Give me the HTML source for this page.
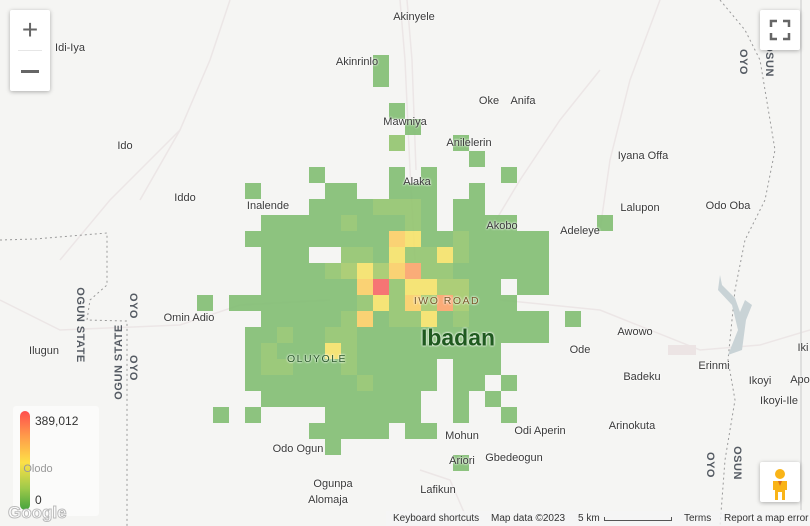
<!DOCTYPE html>
<html><head><meta charset="utf-8">
<style>
html,body{margin:0;padding:0;}
body{width:810px;height:526px;overflow:hidden;background:#f5f5f3;font-family:"Liberation Sans",Arial,sans-serif;position:relative;}
#map{position:absolute;left:0;top:0;width:810px;height:526px;}
.lbl{position:absolute;font-size:11px;color:#3a3a3a;white-space:nowrap;transform:translate(-50%,-50%);text-shadow:0 0 2px #fff,0 0 2px #fff;}
.vl{position:absolute;font-size:11px;color:#555b63;font-weight:bold;white-space:nowrap;letter-spacing:0.5px;}
.ctrl{position:absolute;background:#fff;border-radius:2px;box-shadow:0 1px 4px rgba(0,0,0,0.3);}
</style></head>
<body>
<svg id="map" width="810" height="526">
  <g stroke="#ece6e6" stroke-width="1.5" fill="none">
    <path d="M400,0 L405,60 L410,170 L415,260"/>
    <path d="M407,0 L412,60 L416,170"/>
    <path d="M0,300 L60,330 L180,325 L240,305 L330,300"/>
    <path d="M500,300 L600,310 L700,350 L760,345 L810,330"/>
    <path d="M230,0 L210,60 L180,130 L140,200"/>
    <path d="M490,230 L520,180 L560,120 L600,70"/>
    <path d="M660,0 L630,80 L610,160 L600,230"/>
    <path d="M420,470 L450,480 L470,526"/>
    <path d="M180,130 L110,200 L60,260"/>
  </g>
  <g stroke="#9a9a9a" stroke-width="1" stroke-dasharray="2,3" fill="none">
    <path d="M0,240 L35,239 L107,233 L107,285 L90,300 L87,320 L127,321 L127,526"/>
    <path d="M720,0 L745,30 L760,60 L770,120 L775,150 L765,200 L745,240 L735,290 L728,360 L735,400 L725,460 L720,526"/>
  </g>
  <path d="M720,275 L718,290 L732,305 L738,330 L728,355 L742,350 L746,320 L752,305 L745,300 L740,312 L735,298 L722,285 Z" fill="#c9d3d6"/>
  <line x1="801" y1="0" x2="801" y2="510" stroke="#d8d8d8" stroke-width="1.5"/>
  <rect x="668" y="345" width="28" height="10" fill="#ece4e4"/>
  <g id="heat"></g>
</svg>

<div>
<div class="lbl" style="left:414px;top:17px">Akinyele</div>
<div class="lbl" style="left:357px;top:62px">Akinrinlo</div>
<div class="lbl" style="left:70px;top:48px">Idi-Iya</div>
<div class="lbl" style="left:489px;top:101px">Oke</div>
<div class="lbl" style="left:523px;top:101px">Anifa</div>
<div class="lbl" style="left:405px;top:122px">Mawniya</div>
<div class="lbl" style="left:469px;top:143px">Anilelerin</div>
<div class="lbl" style="left:125px;top:146px">Ido</div>
<div class="lbl" style="left:643px;top:156px">Iyana Offa</div>
<div class="lbl" style="left:417px;top:182px">Alaka</div>
<div class="lbl" style="left:185px;top:198px">Iddo</div>
<div class="lbl" style="left:268px;top:206px">Inalende</div>
<div class="lbl" style="left:640px;top:208px">Lalupon</div>
<div class="lbl" style="left:728px;top:206px">Odo Oba</div>
<div class="lbl" style="left:502px;top:226px">Akobo</div>
<div class="lbl" style="left:580px;top:231px">Adeleye</div>
<div class="lbl" style="left:189px;top:318px">Omin Adio</div>
<div class="lbl" style="left:447px;top:301px;color:#7a5a2a;letter-spacing:1.5px;font-size:10.5px">IWO ROAD</div>
<div class="lbl" style="left:458px;top:338px;color:#1f5a1f;font-size:23px;font-weight:bold">Ibadan</div>
<div class="lbl" style="left:635px;top:332px">Awowo</div>
<div class="lbl" style="left:317px;top:359px;color:#2c5a2c;letter-spacing:1.5px;font-size:10.5px">OLUYOLE</div>
<div class="lbl" style="left:44px;top:351px">Ilugun</div>
<div class="lbl" style="left:580px;top:350px">Ode</div>
<div class="lbl" style="left:803px;top:348px">Iki</div>
<div class="lbl" style="left:714px;top:366px">Erinmi</div>
<div class="lbl" style="left:642px;top:377px">Badeku</div>
<div class="lbl" style="left:760px;top:381px">Ikoyi</div>
<div class="lbl" style="left:800px;top:380px">Apo</div>
<div class="lbl" style="left:779px;top:401px">Ikoyi-Ile</div>
<div class="lbl" style="left:632px;top:426px">Arinokuta</div>
<div class="lbl" style="left:462px;top:436px">Mohun</div>
<div class="lbl" style="left:540px;top:431px">Odi Aperin</div>
<div class="lbl" style="left:298px;top:449px">Odo Ogun</div>
<div class="lbl" style="left:462px;top:461px">Ariori</div>
<div class="lbl" style="left:514px;top:458px">Gbedeogun</div>
<div class="lbl" style="left:333px;top:484px">Ogunpa</div>
<div class="lbl" style="left:328px;top:500px">Alomaja</div>
<div class="lbl" style="left:438px;top:490px">Lafikun</div>
</div>

<div>
<div class="vl" style="left:80px;top:325px;transform:translate(-50%,-50%) rotate(90deg)">OGUN STATE</div>
<div class="vl" style="left:133px;top:306px;transform:translate(-50%,-50%) rotate(90deg)">OYO</div>
<div class="vl" style="left:119px;top:362px;transform:translate(-50%,-50%) rotate(-90deg)">OGUN STATE</div>
<div class="vl" style="left:133px;top:368px;transform:translate(-50%,-50%) rotate(90deg)">OYO</div>
<div class="vl" style="left:769px;top:60px;transform:translate(-50%,-50%) rotate(90deg)">OSUN</div>
<div class="vl" style="left:743px;top:62px;transform:translate(-50%,-50%) rotate(90deg)">OYO</div>
<div class="vl" style="left:710px;top:465px;transform:translate(-50%,-50%) rotate(90deg)">OYO</div>
<div class="vl" style="left:737px;top:463px;transform:translate(-50%,-50%) rotate(90deg)">OSUN</div>
</div>

<div class="ctrl" style="left:10px;top:10px;width:40px;height:81px;">
  <div style="position:absolute;left:0;top:0;width:40px;height:40px;text-align:center;line-height:40px;font-size:28px;color:#666;">+</div>
  <div style="position:absolute;left:8px;top:40px;width:24px;height:1px;background:#e6e6e6"></div>
  <div style="position:absolute;left:11px;top:60px;width:18px;height:2.5px;background:#666;"></div>
</div>
<div class="ctrl" style="left:760px;top:10px;width:40px;height:40px;">
  <svg width="40" height="40"><g stroke="#666" stroke-width="2.5" fill="none"><path d="M11,17 V11 H17"/><path d="M23,11 H29 V17"/><path d="M29,23 V29 H23"/><path d="M17,29 H11 V23"/></g></svg>
</div>
<div class="ctrl" style="left:760px;top:462px;width:40px;height:40px;">
  <svg width="40" height="40"><circle cx="20" cy="12" r="5" fill="#f9b417"/><path d="M13,19 h14 v9 h-2 v10 h-3 v-8 h-4 v8 h-3 v-10 h-2 z" fill="#f9b417"/><path d="M18,19 l2,5 l2,-5z" fill="#d96b1a"/></svg>
</div>

<div style="position:absolute;left:13px;top:406px;width:86px;height:110px;background:rgba(255,255,255,0.55);border-radius:3px;">
  <div style="position:absolute;left:7px;top:5px;width:10px;height:99px;border-radius:5px;background:linear-gradient(to bottom,#ff4e4e,#ff9a4a 25%,#fde047 52%,#9fca4a 78%,#45a33e);"></div>
  <div style="position:absolute;left:22px;top:8px;font-size:12px;color:#333">389,012</div>
  <div style="position:absolute;left:22px;top:87px;font-size:12px;color:#333">0</div>
</div>
<div class="lbl" style="left:38px;top:469px;color:#999;text-shadow:none">Olodo</div>
<div style="position:absolute;left:8px;top:503px;font-size:17px;font-weight:bold;color:#fff;-webkit-text-stroke:1px #bbb;">Google</div>

<div style="position:absolute;left:386px;top:511px;width:424px;height:15px;background:rgba(245,245,245,0.8);font-size:10px;color:#333;">
  <span style="position:absolute;left:7px;top:2px">Keyboard shortcuts</span>
  <span style="position:absolute;left:105px;top:2px">Map data ©2023</span>
  <span style="position:absolute;left:192px;top:2px">5 km</span>
  <span style="position:absolute;left:218px;top:6px;width:66px;height:3px;border:1.5px solid #555;border-top:none;"></span>
  <span style="position:absolute;left:298px;top:2px">Terms</span>
  <span style="position:absolute;left:338px;top:2px">Report a map error</span>
</div>

<script>
// Grid cell levels (rows top→bottom, cols 0..25 left→right); '.' = no data
const gridRows = [
"...........1..............",
"...........1..............",
"..........................",
"............1.............",
".............1............",
"............2...1.........",
".................1........",
".......1....1.1....1......",
"...1....11..111..1........",
".......1111222" + "1.11........",
"....11111211121.1111.....1",
"..." + "111111111" + "54112" + "11111" + "....",
"...." + "111" + ".." + "22142242" + "11111" + "....",
"...." + "1111" + "23435622" + "111111" + "....",
"...." + "111111" + "5724433" + "11" + "." + "11" + "....",
"1." + "11111111" + "2425363" + "111" + "......",
"...." + "11111" + "25122412" + "11111" + ".1..",
"..." + "11211" + "22" + "111111111111" + "....",
"..." + "12111" + "42" + "111111111" + ".......",
"..." + "122111" + "2" + "11111" + "." + "111" + ".......",
"..." + "1111111" + "2" + "1111" + "." + "11" + "." + "1" + "......",
"...." + "1111111111" + ".." + "1.1" + ".......",
".1.1...." + "111111" + ".." + "1" + ".." + "1" + "......",
"......." + "11111" + "." + "11" + "...........",
"........1.................",
"................1........."
];
// value per level (count)
const levelValues = [0, 25000, 90000, 140000, 195000, 250000, 300000, 389012];
const maxValue = 389012;
const originX = 197, originY = 55, cell = 16;
function xScale(c){ return originX + c*cell; }
function yScale(r){ return originY + r*cell; }
const stops = [[0,[125,188,118]],[0.35,[160,200,110]],[0.5,[244,226,108]],[0.65,[250,205,105]],[0.77,[250,165,110]],[1,[245,105,105]]];
function colorFor(v){
  const t = v/maxValue;
  for(let i=1;i<stops.length;i++){
    if(t<=stops[i][0]){
      const a=stops[i-1],b=stops[i],f=(t-a[0])/(b[0]-a[0]);
      const c=a[1].map((x,k)=>Math.round(x+(b[1][k]-x)*f));
      return 'rgb('+c.join(',')+')';
    }
  }
  return 'rgb(245,105,105)';
}
const g = document.getElementById('heat');
gridRows.forEach((row,r)=>{
  for(let c=0;c<row.length;c++){
    const ch=row[c];
    if(ch==='.') continue;
    const v=levelValues[+ch];
    const rect=document.createElementNS('http://www.w3.org/2000/svg','rect');
    rect.setAttribute('x',xScale(c));
    rect.setAttribute('y',yScale(r));
    rect.setAttribute('width',cell);
    rect.setAttribute('height',cell);
    rect.setAttribute('fill',colorFor(v));
    rect.setAttribute('fill-opacity','0.92');
    
    
    g.appendChild(rect);
  }
});
</script>
</body></html>
